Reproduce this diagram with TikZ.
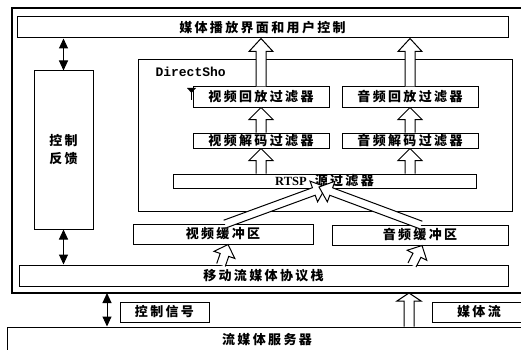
\documentclass[tikz,border=0pt]{standalone}
\usepackage{fontspec}
\usetikzlibrary{calc,arrows.meta}
\newfontfamily\cjk{Noto Sans CJK SC}[LetterSpace=18]
\newfontfamily\monofnt{Liberation Mono}
\newfontfamily\seriffnt{Liberation Serif}
\newcommand\blockarr[5]{%
  \coordinate (bkA) at #4; \coordinate (bkB) at #5;
  \coordinate (bkH) at ($(bkB)!#3!(bkA)$);
  \draw[fill=white, line join=miter] ($(bkA)!#1!90:(bkB)$) -- ($(bkH)!#1!90:(bkB)$) -- ($(bkH)!#2!90:(bkB)$) -- (bkB) -- ($(bkH)!#2!-90:(bkB)$) -- ($(bkH)!#1!-90:(bkB)$) -- ($(bkA)!#1!-90:(bkB)$);}
\begin{document}
\begin{tikzpicture}[x=1pt,y=-1pt, line width=1pt,
  box/.style={draw, fill=white, inner sep=0pt, font=\cjk\bfseries\fontsize{13}{18}\selectfont},
  dbl/.style={{Triangle[width=9pt,length=10pt]}-{Triangle[width=9pt,length=10pt]}, line width=1pt}]
\useasboundingbox (0,0) rectangle (521,350);
% outer frame
\draw[line width=1.1pt] (12,8) rectangle (526,293);
% top bar
\node[box, minimum width=491pt, minimum height=21pt] (top) at (262.5,27.5) {媒体播放界面和用户控制};
% control feedback
\node[box, minimum width=59pt, minimum height=158pt, align=center] (ctrl) at (63.5,150) {控制\\反馈};
% protocol stack
\node[box, minimum width=489pt, minimum height=21pt] (stack) at (263.5,275.5) {移动流媒体协议栈};
% DirectShow frame
\draw (138,60) rectangle (512,211);
\node[anchor=west, inner sep=0pt, font=\monofnt\bfseries\fontsize{13}{15}\selectfont] (ds) at (155,72) {DirectSho};
% filters
\node[box, minimum width=136pt, minimum height=20pt] (vpb) at (261,97) {视频回放过滤器};
\node[box, minimum width=136pt, minimum height=20pt] (apb) at (410,97) {音频回放过滤器};
\node[box, minimum width=136pt, minimum height=15pt] (vdec) at (261,140.5) {视频解码过滤器};
\node[box, minimum width=136pt, minimum height=15pt] (adec) at (410,140.5) {音频解码过滤器};
\node[box, minimum width=303pt, minimum height=14pt] (rtsp) at (324.5,181) {{\seriffnt\bfseries\fontsize{12.5}{14}\selectfont RTSP}\hspace{8pt}源过滤器};
% small mark at filter corner
\fill (187,88) -- (196,88) -- (191.5,93) -- cycle;
\draw (191.5,88) -- (191.5,100);
% buffers
\node[box, minimum width=180pt, minimum height=20pt] (vbuf) at (223,234) {视频缓冲区};
\node[box, minimum width=176pt, minimum height=20pt] (abuf) at (420,235) {音频缓冲区};
% bottom
\node[box, minimum width=89pt, minimum height=20pt] (csig) at (164.5,312) {控制信号};
\node[box, minimum width=94pt, minimum height=20pt] (mstr) at (479,312) {媒体流\hspace{12pt}};
\node[box, minimum width=520pt, minimum height=26pt] (server) at (267,340) {流媒体服务器};
% double arrows
\draw[dbl] (ctrl.north) -- (ctrl.north |- top.south);
\draw[dbl] (ctrl.south) -- (ctrl.south |- stack.north);
\coordinate (cs) at (107,293);
\draw[dbl] (cs) -- (cs |- server.north);
% block arrows
\blockarr{5pt}{12pt}{13pt}{(vpb.north)}{(vpb.north |- top.south)}
\blockarr{5pt}{12pt}{13pt}{(apb.north)}{(apb.north |- top.south)}
\blockarr{5pt}{12pt}{12pt}{(vdec.north)}{(vpb.south)}
\blockarr{5pt}{12pt}{12pt}{(adec.north)}{(apb.south)}
\blockarr{5pt}{12pt}{12pt}{(rtsp.north -| vdec)}{(vdec.south)}
\blockarr{5pt}{12pt}{12pt}{(rtsp.north -| adec)}{(adec.south)}
\coordinate (vt) at (326,187);
\coordinate (at) at (319,187);
\coordinate (vs) at (225,224);
\coordinate (as) at (421,225);
\blockarr{4pt}{11pt}{13pt}{(vs)}{(vt)}
\blockarr{4pt}{11pt}{13pt}{(as)}{(at)}
\coordinate (sv) at (221,265);
\coordinate (sa) at (412,265);
\blockarr{4.5pt}{11pt}{11pt}{(sv)}{(vbuf.south -| 228,0)}
\blockarr{4.5pt}{11pt}{11pt}{(sa)}{(abuf.south -| 422,0)}
\coordinate (ms) at (409,293);
\blockarr{5pt}{12pt}{8pt}{(ms |- server.north)}{(ms)}
\end{tikzpicture}
\end{document}
